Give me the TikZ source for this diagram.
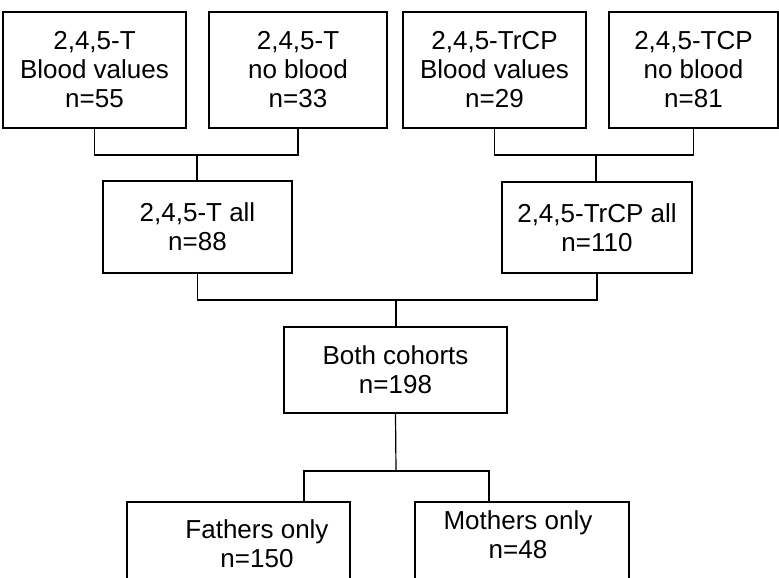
\documentclass[tikz,border=0pt]{standalone}
\usepackage{fontspec}
\setmainfont{Liberation Sans}
\usetikzlibrary{calc}
\begin{document}
\begin{tikzpicture}[x=1pt,y=-1pt,
  box/.style={draw, line width=1.2pt, inner sep=0pt, align=center, font=\fontsize{26}{29}\selectfont},
  txt/.style={align=center, inner sep=0pt, font=\fontsize{26}{29}\selectfont},
  conn/.style={line width=1.2pt}]
\useasboundingbox (0,0) rectangle (779,578);
\fill[white] (0,0) rectangle (779,578);
\clip (0,0) rectangle (779,578);
% top row
\node[box, minimum width=183, minimum height=116] (b1) at (94.5,70) {2,4,5-T\\Blood values\\n=55};
\node[box, minimum width=178, minimum height=116] (b2) at (298,70) {2,4,5-T\\no blood\\n=33};
\node[box, minimum width=183, minimum height=116] (b3) at (494.5,70) {2,4,5-TrCP\\Blood values\\n=29};
\node[box, minimum width=169, minimum height=116] (b4) at (693.5,70) {2,4,5-TCP\\no blood\\n=81};
% second row
\node[box, minimum width=189, minimum height=92] (c1) at (197.5,227) {2,4,5-T all\\n=88};
\node[box, minimum width=190, minimum height=91] (c2) at (597,227.5) {2,4,5-TrCP all\\n=110};
% third row
\node[box, minimum width=223, minimum height=86] (d) at (395.5,370) {Both cohorts\\n=198};
% bottom row (cut off by the image edge)
\node[box, minimum width=223, minimum height=100,
  label={[txt, xshift=18.5pt, yshift=8pt]center:Fathers only\\n=150}] (e1) at (238.5,552) {};
\node[box, minimum width=214, minimum height=100,
  label={[txt, xshift=-4pt, yshift=17pt]center:Mothers only\\n=48}] (e2) at (522,552) {};
% connectors
\coordinate (j1) at (197,155);
\coordinate (j2) at (596,155);
\coordinate (j3) at (396,300);
\coordinate (j4) at (396,471);
\draw[conn] (b1.south) |- (j1) -| (b2.south);
\draw[conn] (j1) -- (j1 |- c1.north);
\draw[conn] (b3.south) |- (j2) -| (b4.south);
\draw[conn] (j2) -- (j2 |- c2.north);
\draw[conn] (c1.south) |- (j3) -| (c2.south);
\draw[conn] (j3) -- (j3 |- d.north);
\draw[conn] (d.south) -- (j4);
\draw[conn] ($(e1.north)+(65.5,0)$) |- (j4) -| ($(e2.north)+(-33,0)$);
\end{tikzpicture}
\end{document}
